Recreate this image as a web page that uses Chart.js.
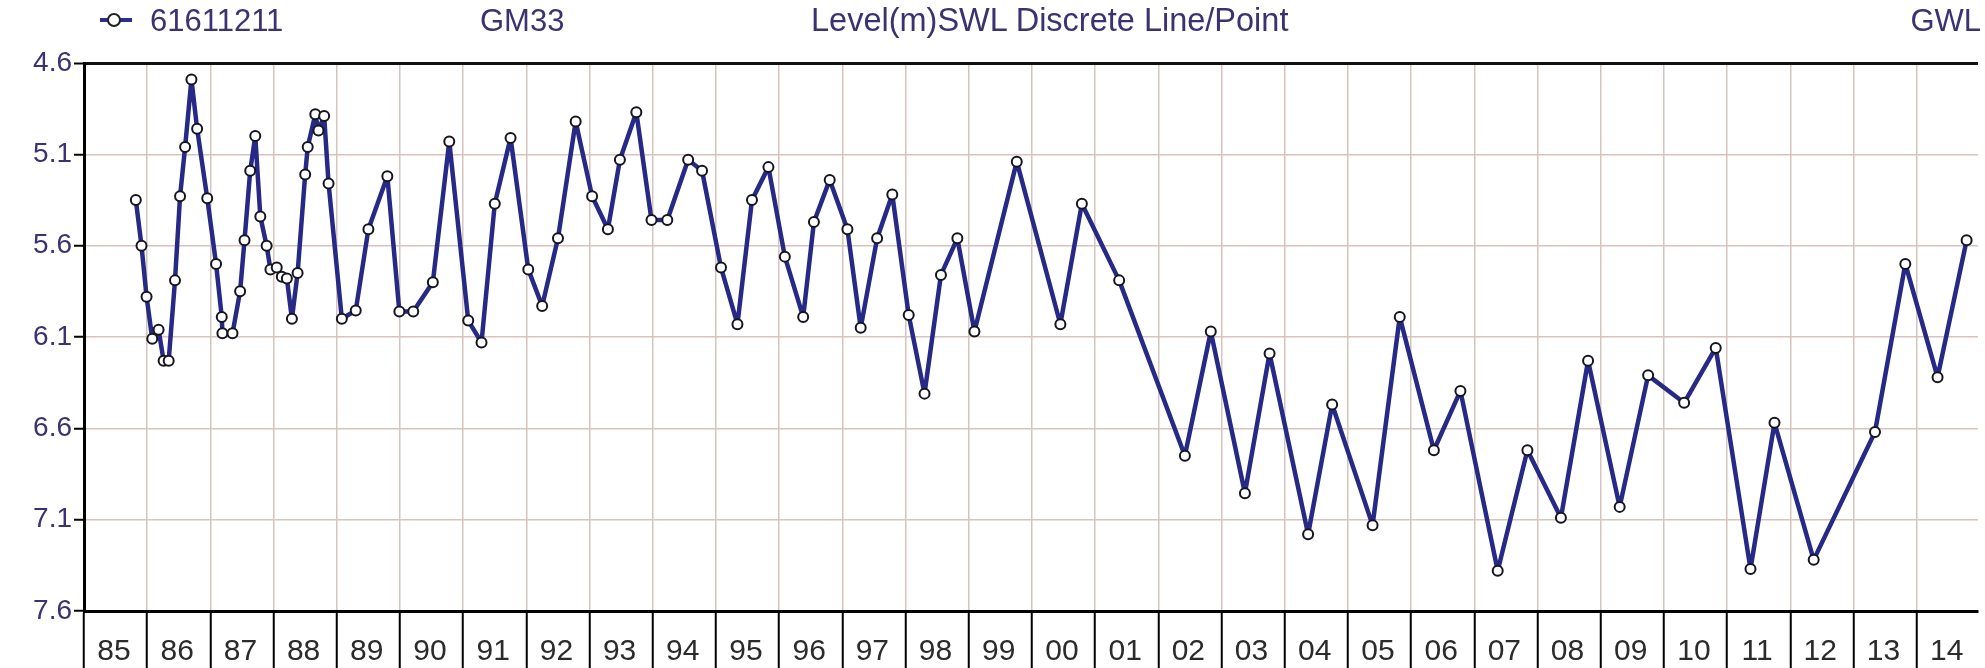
<!DOCTYPE html>
<html>
<head>
<meta charset="utf-8">
<script src="https://cdn.jsdelivr.net/npm/chart.js@4/dist/chart.umd.min.js"></script>
<style>
  html, body { margin: 0; padding: 0; background: #ffffff; }
  #wrap { position: relative; width: 1985px; height: 668px; overflow: hidden; }
  #c { position: absolute; left: 0; top: 0; }
  .hdr { position: absolute; top: 5px; font-family: "Liberation Sans", Arial, sans-serif; font-size: 31px; line-height: 31px; color: #3b3272; white-space: nowrap; }
  #sym { position: absolute; left: 100px; top: 18px; width: 32px; height: 4px; background: #2a2e8c; }
  #symc { position: absolute; left: 107px; top: 13px; width: 10px; height: 10px; border: 2px solid #222; border-radius: 50%; background: #fff; }
</style>
</head>
<body>
<div id="wrap">
  <canvas id="c" width="1985" height="668"></canvas>
  <div id="sym"></div><div id="symc"></div>
  <div class="hdr" id="h1" style="left:150px;">61611211</div>
  <div class="hdr" id="h2" style="left:480px;">GM33</div>
  <div class="hdr" id="h3" style="left:811px; font-size:32.5px;">Level(m)SWL Discrete Line/Point</div>
  <div class="hdr" id="h4" style="right:4px;">GWL</div>
</div>
<script>
// ---- data ----
const years = [
  1985.82,1985.91,1985.99,1986.08,1986.18,1986.26,1986.34,1986.44,1986.52,1986.60,
  1986.70,1986.79,1986.95,1987.09,1987.18,1987.19,1987.35,1987.47,1987.54,1987.63,
  1987.71,1987.79,1987.89,1987.95,1988.05,1988.13,1988.21,1988.29,1988.38,1988.50,
  1988.54,1988.66,1988.71,1988.80,1988.87,
  1989.08,1989.30,1989.50,1989.80,1989.99,1990.21,1990.52,1990.78,1991.08,1991.29,
  1991.50,1991.75,1992.03,1992.25,1992.50,1992.78,
  1993.04,1993.29,1993.48,1993.74,1993.98,1994.23,1994.56,1994.78,1995.08,1995.34,
  1995.57,1995.83,1996.09,1996.38,1996.55,1996.80,
  1997.08,1997.29,1997.55,1997.79,1998.05,1998.30,1998.56,1998.82,1999.09,1999.76,
  2000.45,2000.79,2001.38,2002.42,2002.83,2003.37,2003.76,2004.37,2004.75,2005.39,
  2005.82,2006.36,2006.78,2007.37,2007.84,2008.37,2008.80,2009.30,2009.75,2010.32,
  2010.82,2011.37,2011.75,2012.37,2013.34,2013.82,2014.33,2014.79
];
const levels = [
  5.35,5.60,5.88,6.11,6.06,6.23,6.23,5.79,5.33,5.06,
  4.69,4.96,5.34,5.70,5.99,6.08,6.08,5.85,5.57,5.19,
  5.00,5.44,5.60,5.73,5.72,5.77,5.78,6.00,5.75,5.21,
  5.06,4.88,4.97,4.89,5.26,
  6.00,5.955,5.51,5.22,5.96,5.96,5.80,5.03,6.01,6.13,
  5.37,5.01,5.73,5.93,5.56,4.92,
  5.33,5.51,5.13,4.87,5.46,5.46,5.13,5.19,5.72,6.03,
  5.35,5.17,5.66,5.99,5.47,5.24,
  5.51,6.05,5.56,5.32,5.98,6.41,5.76,5.56,6.07,5.14,
  6.03,5.37,5.79,6.75,6.07,6.955,6.19,7.18,6.47,7.13,
  5.99,6.72,6.395,7.38,6.72,7.09,6.23,7.03,6.31,6.46,
  6.16,7.37,6.57,7.32,6.62,5.70,6.32,5.57
];
const yTicks = [4.6, 5.1, 5.6, 6.1, 6.6, 7.1, 7.6];
const yearTicks = [1985,1986,1987,1988,1989,1990,1991,1992,1993,1994,1995,1996,1997,1998,1999,
  2000,2001,2002,2003,2004,2005,2006,2007,2008,2009,2010,2011,2012,2013,2014];
const yearLabels = ['85','86','87','88','89','90','91','92','93','94','95','96','97','98','99',
  '00','01','02','03','04','05','06','07','08','09','10','11','12','13','14'];
const seriesName = '61611211';

const FONT = '"Liberation Sans", Arial, sans-serif';
const gridColor = '#d6c4bd';

const points = years.map((x, i) => ({ x: x, y: levels[i] }));

new Chart(document.getElementById('c'), {
  type: 'line',
  data: {
    datasets: [{
      label: seriesName,
      data: points,
      borderColor: '#262a86',
      borderWidth: 4.5,
      borderJoinStyle: 'round',
      tension: 0,
      pointRadius: 5,
      pointBorderWidth: 2,
      pointBorderColor: '#15151f',
      pointBackgroundColor: '#ffffff'
    }]
  },
  options: {
    responsive: false,
    animation: false,
    devicePixelRatio: 1,
    layout: { padding: { top: 63, right: 0, left: 0, bottom: 0 } },
    plugins: { legend: { display: false }, tooltip: { enabled: false }, title: { display: false } },
    scales: {
      x: {
        type: 'linear', min: 1985, max: 2014.97, position: 'bottom',
        afterBuildTicks: s => { s.ticks = yearTicks.map(v => ({ value: v })); },
        afterFit: s => { s.height = 57; },
        grid: { color: gridColor, lineWidth: 1.5, tickColor: '#000', tickLength: 57, tickWidth: 2 },
        border: { color: '#000', width: 3 },
        ticks: {
          callback: (v, i) => (i < yearLabels.length ? yearLabels[i] : ''),
          labelOffset: 30, padding: -34, autoSkip: false, maxRotation: 0, minRotation: 0,
          font: { size: 30, family: FONT }, color: '#2b2b2b'
        }
      },
      y: {
        type: 'linear', reverse: true, min: 4.6, max: 7.6,
        afterBuildTicks: s => { s.ticks = yTicks.map(v => ({ value: v })); },
        afterFit: s => { s.width = 84; },
        grid: {
          color: c => (c.tick && c.tick.value === 4.6) ? '#111' : gridColor,
          lineWidth: c => (c.tick && c.tick.value === 4.6) ? 3 : 1.5,
          tickColor: '#000', tickLength: 10, tickWidth: 2
        },
        border: { color: '#000', width: 3 },
        ticks: {
          callback: v => Number(v).toFixed(1),
          padding: 2,
          font: { size: 28, family: FONT }, color: '#3b3272'
        }
      }
    }
  }
});
</script>
</body>
</html>
